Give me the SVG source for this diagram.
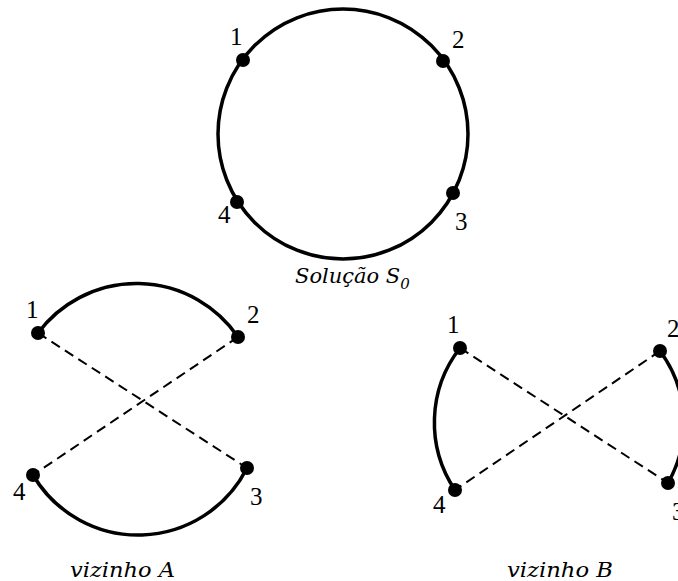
<svg xmlns="http://www.w3.org/2000/svg" width="678" height="581" viewBox="0 0 678 581">
<style>
.arc{fill:none;stroke:#000;stroke-width:3.5}
.dash{fill:none;stroke:#000;stroke-width:2;stroke-dasharray:10 6}
.dot{fill:#000}
.num{font-family:'Liberation Serif','Times New Roman',serif;font-size:25px;fill:#000}
.cap{font-family:'DejaVu Serif',serif;font-style:italic;font-size:21px;fill:#000}
</style>
<rect width="678" height="581" fill="#fff"/>
<g id="connectors">
<circle class="arc" cx="343" cy="134" r="125"/>
<path class="arc" d="M38 333 A123 123 0 0 1 238 337"/>
<path class="arc" d="M33 475 A122 122 0 0 0 247 468"/>
<path class="dash" d="M38 333 L247 468"/>
<path class="dash" d="M238 337 L33 475"/>
<path class="arc" d="M460 348 A121 121 0 0 0 455 490"/>
<path class="arc" d="M660 351 A121 121 0 0 1 668 483"/>
<path class="dash" d="M460 348 L668 483"/>
<path class="dash" d="M660 351 L455 490"/>
</g>
<g id="s0-n1"><circle class="dot" cx="243" cy="60" r="7"/><text class="num" x="230" y="45">1</text></g>
<g id="s0-n2"><circle class="dot" cx="443" cy="61" r="7"/><text class="num" x="452" y="48">2</text></g>
<g id="s0-n3"><circle class="dot" cx="453" cy="193" r="7"/><text class="num" x="455" y="230">3</text></g>
<g id="s0-n4"><circle class="dot" cx="237" cy="202" r="7"/><text class="num" x="218" y="223">4</text></g>
<g id="a-n1"><circle class="dot" cx="38" cy="333" r="7"/><text class="num" x="26" y="318">1</text></g>
<g id="a-n2"><circle class="dot" cx="238" cy="337" r="7"/><text class="num" x="247" y="323">2</text></g>
<g id="a-n3"><circle class="dot" cx="247" cy="468" r="7"/><text class="num" x="250" y="505">3</text></g>
<g id="a-n4"><circle class="dot" cx="33" cy="475" r="7"/><text class="num" x="13" y="500">4</text></g>
<g id="b-n1"><circle class="dot" cx="460" cy="348" r="7"/><text class="num" x="447" y="333">1</text></g>
<g id="b-n2"><circle class="dot" cx="660" cy="351" r="7"/><text class="num" x="667" y="337">2</text></g>
<g id="b-n3"><circle class="dot" cx="668" cy="483" r="7"/><text class="num" x="672" y="520">3</text></g>
<g id="b-n4"><circle class="dot" cx="455" cy="490" r="7"/><text class="num" x="433" y="513">4</text></g>
<g id="labels">
<text class="cap" x="295" y="283">Solução S<tspan font-size="15" dy="6">0</tspan></text>
<text class="cap" x="70" y="577" textLength="105" lengthAdjust="spacingAndGlyphs">vizinho A</text>
<text class="cap" x="507" y="577" textLength="106" lengthAdjust="spacingAndGlyphs">vizinho B</text>
</g>
</svg>
